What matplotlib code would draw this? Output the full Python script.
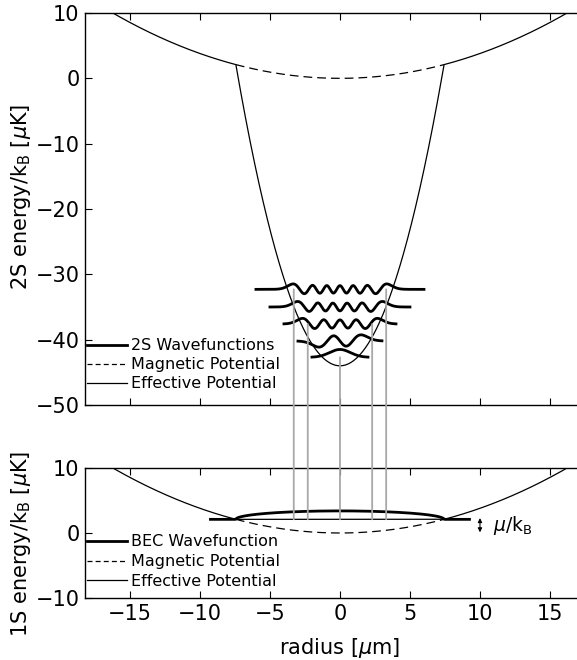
import numpy as np
import matplotlib
matplotlib.use("Agg")
import matplotlib.pyplot as plt
from matplotlib.patches import ConnectionPatch
from math import factorial

plt.rcParams['font.family'] = ['DejaVu Sans']
plt.rcParams['mathtext.fontset'] = 'dejavusans'

# trap / condensate parameters
trap_curv = 0.038      # magnetic potential curvature [uK/um^2]
mu = 2.1               # chemical potential [uK]
v2s_min = -44.0        # bottom of the 2S effective potential [uK]

# 2S wavefunctions
levels = [-32.3, -35.0, -37.6, -40.2, -42.7]
level_half = [6.0, 5.0, 4.0, 3.0, 2.0]
level_n = [12, 10, 8, 3, 0]
osc_len = 0.74
wave_amp = 1.6

# BEC wavefunction
bec_amp = 1.3
bec_half = 9.25

# grey drop lines (x position, starting level)
drop_x = [-3.3, -2.3, 0.0, 2.3, 3.3]
drop_from = [-32.3, -37.6, -42.7, -37.6, -32.3]

xlim = (-18.21, 16.93)
R = np.sqrt(mu / trap_curv)
k_shift = -v2s_min / mu

x = np.linspace(xlim[0], xlim[1], 1500)
V = trap_curv * x ** 2
inside = np.abs(x) < R
eff2s = np.where(inside, V - k_shift * (mu - V), V)
eff1s = np.where(inside, mu, V)
xin = np.linspace(-R, R, 400)
Vin = trap_curv * xin ** 2


def ho_wave(xx, n):
    xi = xx / osc_len
    c = np.zeros(n + 1)
    c[n] = 1
    norm = 1.0 / np.sqrt(2.0 ** n * factorial(n)) * np.pi ** -0.25
    return norm * np.polynomial.hermite.hermval(xi, c) * np.exp(-xi ** 2 / 2)


fig = plt.figure(figsize=(5.77, 6.60), dpi=100)
W, H = 577, 660
ax1 = fig.add_axes([85 / W, 1 - 405 / H, 492 / W, 392 / H])
ax2 = fig.add_axes([85 / W, 1 - 598 / H, 492 / W, 130 / H])

dash = (0, (7, 4))
thin = 0.9
thick = 2.0
fs_tick = 15
fs_leg = 11.5

# top panel: 2S
ax1.plot(x, eff2s, color='k', lw=thin, zorder=3)
ax1.plot(xin, Vin, color='k', lw=thin, ls=dash, zorder=3)
for E, hw, n in zip(levels, level_half, level_n):
    xx = np.linspace(-hw, hw, 400)
    ax1.plot(xx, E + wave_amp * ho_wave(xx, n), color='k', lw=thick, zorder=4)

h_wave, = ax1.plot([], [], color='k', lw=thick, label='2S Wavefunctions')
h_mag, = ax1.plot([], [], color='k', lw=thin, ls=(0, (4, 2.5)), label='Magnetic Potential')
h_eff, = ax1.plot([], [], color='k', lw=thin, label='Effective Potential')
ax1.legend(handles=[h_wave, h_mag, h_eff], loc='lower left', bbox_to_anchor=(0.005, 0.035),
           frameon=False, fontsize=fs_leg, handlelength=2.5, handletextpad=0.2,
           labelspacing=0.25, borderaxespad=0, borderpad=0)

ax1.set_xlim(*xlim)
ax1.set_ylim(-50, 10)
ax1.set_yticks([10, 0, -10, -20, -30, -40, -50])
ax1.set_xticks([-15, -10, -5, 0, 5, 10, 15])
ax1.set_xticklabels([])
ax1.set_ylabel('2S energy/k$_\\mathrm{B}$ [$\\mu$K]', fontsize=fs_tick)
ax1.yaxis.set_label_coords(-0.106, 0.53)

# bottom panel: 1S
ax2.plot(x, eff1s, color='k', lw=thin, zorder=3)
ax2.plot(xin, Vin, color='k', lw=thin, ls=dash, zorder=3)
xb = np.linspace(-bec_half, bec_half, 600)
ax2.plot(xb, mu + bec_amp * np.sqrt(np.clip(1 - xb ** 2 / R ** 2, 0, None)),
         color='k', lw=thick, zorder=4)
ax2.annotate('', xy=(10, 0.1), xytext=(10, mu + 0.2),
             arrowprops=dict(arrowstyle='<|-|>', lw=0.8, color='k',
                             mutation_scale=6, shrinkA=0, shrinkB=0))
ax2.text(10.9, mu * 0.55, '$\\mu$/k$_\\mathrm{B}$', fontsize=13.5, va='center', ha='left')

b_wave, = ax2.plot([], [], color='k', lw=thick, label='BEC Wavefunction')
b_mag, = ax2.plot([], [], color='k', lw=thin, ls=(0, (4, 2.5)), label='Magnetic Potential')
b_eff, = ax2.plot([], [], color='k', lw=thin, label='Effective Potential')
ax2.legend(handles=[b_wave, b_mag, b_eff], loc='lower left', bbox_to_anchor=(0.005, 0.07),
           frameon=False, fontsize=fs_leg, handlelength=2.5, handletextpad=0.2,
           labelspacing=0.3, borderaxespad=0, borderpad=0)

ax2.set_xlim(*xlim)
ax2.set_ylim(-10, 10)
ax2.set_yticks([10, 0, -10])
ax2.set_xticks([-15, -10, -5, 0, 5, 10, 15])
ax2.set_ylabel('1S energy/k$_\\mathrm{B}$ [$\\mu$K]', fontsize=fs_tick)
ax2.yaxis.set_label_coords(-0.106, 0.42)
ax2.set_xlabel('radius [$\\mu$m]', fontsize=fs_tick)
ax2.xaxis.set_label_coords((0 - xlim[0]) / (xlim[1] - xlim[0]), -0.29)

for ax in (ax1, ax2):
    ax.spines['right'].set_visible(False)
    for s in ('left', 'top', 'bottom'):
        ax.spines[s].set_linewidth(1.0)
    ax.tick_params(direction='in', top=True, bottom=True, left=True, right=False,
                   length=5, width=0.8, labelsize=fs_tick, pad=4)

# grey lines from the 2S levels down to the condensate
for xd, E in zip(drop_x, drop_from):
    con = ConnectionPatch(xyA=(xd, E), coordsA=ax1.transData,
                          xyB=(xd, mu), coordsB=ax2.transData,
                          color='#a8a8a8', lw=1.3, zorder=1)
    fig.add_artist(con)

fig.savefig('out.png', dpi=100)
